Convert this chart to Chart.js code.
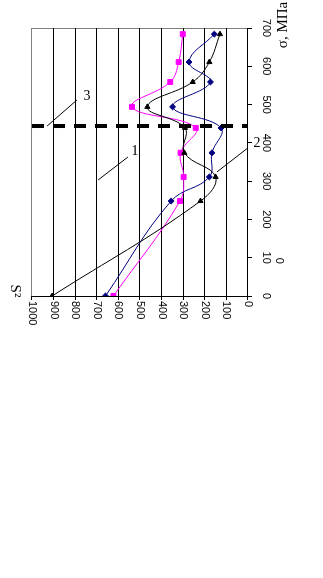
<!DOCTYPE html>
<html>
<head>
<meta charset="utf-8">
<script src="https://cdn.jsdelivr.net/npm/chart.js@4"></script>
<style>
  html, body { margin: 0; padding: 0; background: #fff; overflow: hidden; }
  /* the chart is drawn lying on its side, then turned a quarter clockwise */
  #wrap {
    position: absolute; left: 0; top: 0; width: 578px; height: 323px;
    transform-origin: 0 0; transform: translate(323px, 0) rotate(90deg);
  }
</style>
</head>
<body>
<div id="wrap"><canvas id="myChart" width="578" height="323"></canvas></div>
<script>
// stress, MPa (shared by the three curves)
const sigma = [0, 248, 311, 374, 439, 494, 559, 611, 684];
// S^2 values of each curve
const s2Black = [907, 220, 150, 295, 292, 466, 256, 179, 130];
const s2Blue = [660, 356, 179, 167, 125, 349, 174, 273, 156];
const s2Pink = [623, 315, 298, 312, 242, 537, 360, 321, 302];
// dashed threshold line
const dashSigma = 444;

const sigmaTicks = [0, 100, 200, 300, 400, 500, 600, 700];
const sigmaLabels = ["0", ["  0", "10"], "200", "300", "400", "500", "600", "700"];
const s2Ticks = [0, 100, 200, 300, 400, 500, 600, 700, 800, 900, 1000];
const s2Labels = ["0", "100", "200", "300", "400", "500", "600", "700", "800", "900", "1000"];

// leader lines with their numbers: [S2, sigma]
const leaders = [
  { text: "1", from: [694, 303], to: [556, 363], at: [523, 377] },
  { text: "2", from: [0, 387], to: [144, 324], at: [-42, 400] },
  { text: "3", from: [930, 444], to: [792, 512], at: [745, 521] },
];

const pts = (ys) => sigma.map((s, i) => ({ x: s, y: ys[i] }));

const extras = {
  id: "extras",
  afterDraw(chart) {
    const { ctx, chartArea, scales } = chart;
    const px = (v) => scales.x.getPixelForValue(v);
    const py = (v) => scales.y.getPixelForValue(v);
    ctx.save();
    ctx.strokeStyle = "#000";
    ctx.fillStyle = "#000";
    ctx.lineWidth = 1;
    leaders.forEach((l) => {
      ctx.beginPath();
      ctx.moveTo(px(l.from[1]), py(l.from[0]));
      ctx.lineTo(px(l.to[1]), py(l.to[0]));
      ctx.stroke();
      // numbers stand upright on the page
      ctx.save();
      ctx.translate(px(l.at[1]), py(l.at[0]));
      ctx.rotate(-Math.PI / 2);
      ctx.font = '14px "Liberation Serif"';
      ctx.textAlign = "center";
      ctx.textBaseline = "middle";
      ctx.fillText(l.text, 0, 0);
      ctx.restore();
    });

    // axis names
    ctx.font = '15px "Liberation Serif"';
    ctx.textAlign = "center";
    ctx.textBaseline = "middle";
    ctx.fillText("S²", chartArea.right - 5, chartArea.bottom + 17);

    ctx.save();
    ctx.translate(chartArea.left - 3, chartArea.top - 35);
    ctx.rotate(Math.PI);
    ctx.fillText("σ, МПа", 0, 0);
    ctx.restore();
    ctx.restore();
  },
};

new Chart(document.getElementById("myChart"), {
  type: "line",
  data: {
    datasets: [
      {
        data: [{ x: dashSigma, y: 1000 }, { x: dashSigma, y: 0 }],
        borderColor: "#000",
        borderWidth: 4,
        borderDash: [12, 9],
        pointRadius: 0,
        tension: 0,
      },
      {
        data: pts(s2Black),
        borderColor: "#000",
        backgroundColor: "#000",
        borderWidth: 1,
        pointStyle: "triangle",
        pointRotation: -90,
        pointRadius: 3,
        tension: 0.4,
      },
      {
        data: pts(s2Blue),
        borderColor: "#000080",
        backgroundColor: "#000080",
        borderWidth: 1,
        pointStyle: "rectRot",
        pointRadius: 3,
        tension: 0.4,
      },
      {
        data: pts(s2Pink),
        borderColor: "#FF00FF",
        backgroundColor: "#FF00FF",
        borderWidth: 1,
        pointStyle: "rect",
        pointRadius: 3.5,
        tension: 0.4,
      },
    ],
  },
  options: {
    responsive: false,
    animation: false,
    layout: { padding: { left: 28, bottom: 32, top: 0, right: 0 } },
    plugins: {
      legend: { display: false },
      tooltip: { enabled: false },
    },
    scales: {
      x: {
        type: "linear",
        position: "top",
        reverse: true,
        min: 0,
        max: 700,
        afterFit: (scale) => { scale.height = 75; },
        afterBuildTicks: (scale) => { scale.ticks = sigmaTicks.map((v) => ({ value: v })); },
        grid: {
          color: (c) => (c.tick && c.tick.value === 700 ? "#808080" : "rgba(0,0,0,0)"),
          tickColor: "#000",
          tickLength: 4,
        },
        border: { color: "#000" },
        ticks: {
          autoSkip: false,
          minRotation: 0,
          maxRotation: 0,
          padding: 7,
          color: "#000",
          font: { family: "Liberation Sans", size: 11 },
          callback: (v) => sigmaLabels[sigmaTicks.indexOf(v)],
        },
      },
      y: {
        type: "linear",
        position: "right",
        reverse: true,
        min: 0,
        max: 1000,
        afterFit: (scale) => { scale.width = 282; },
        afterBuildTicks: (scale) => { scale.ticks = s2Ticks.map((v) => ({ value: v })); },
        grid: {
          color: (c) => (c.tick && c.tick.value === 1000 ? "#808080" : "#000"),
          tickColor: "#000",
          tickLength: 4,
        },
        border: { color: "#000" },
        ticks: {
          padding: 1,
          color: "#000",
          font: { family: "Liberation Sans", size: 11 },
          callback: (v) => s2Labels[s2Ticks.indexOf(v)],
        },
      },
    },
  },
  plugins: [extras],
});
</script>
</body>
</html>
